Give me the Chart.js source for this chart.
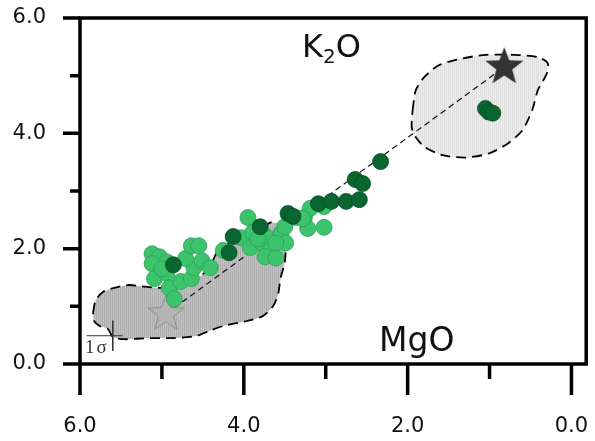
<!DOCTYPE html>
<html>
<head>
<meta charset="utf-8">
<script src="https://cdn.jsdelivr.net/npm/chart.js@4.4.1/dist/chart.umd.min.js"></script>
<style>
  html, body { margin: 0; padding: 0; background: #fff; }
  #wrap { width: 595px; height: 441px; }
</style>
</head>
<body>
<div id="wrap"><canvas id="grafica" width="595" height="441"></canvas></div>
<script>
// MgO (x, reversed) vs K2O (y), wt%
const xTicks = [0, 1, 2, 3, 4, 5, 6];
const yTicks = [0, 1, 2, 3, 4, 5, 6];

// samples, light green
const lightMgO = [5.12, 5.03, 5.12, 5.09, 4.94, 4.94, 4.91, 4.85, 4.77, 4.64, 4.61, 4.71, 4.64, 4.55, 4.51, 4.41, 5.00,
                  3.95, 4.25, 4.03, 3.89, 3.92, 3.77, 3.73, 3.67, 3.74, 3.61, 3.55, 3.49, 3.50, 3.37, 3.26, 3.22, 3.19, 3.28, 3.02, 3.02, 3.83, 3.61];
const lightK2O = [1.91, 1.86, 1.74, 1.48, 1.77, 1.57, 1.32, 1.13, 1.43, 1.48, 1.67, 1.83, 2.05, 2.05, 1.79, 1.67, 1.65,
                  2.54, 1.97, 2.19, 2.28, 2.02, 2.09, 2.21, 1.97, 1.86, 1.84, 2.26, 2.10, 2.38, 2.54, 2.54, 2.35, 2.70, 2.52, 2.73, 2.37, 2.17, 2.10];

// samples, dark green
const darkMgO = [4.86, 4.13, 4.18, 3.80, 3.46, 3.40, 3.09, 2.93, 2.75, 2.59, 2.64, 2.55, 2.33, 1.05, 1.01, 0.96];
const darkK2O = [1.72, 2.21, 1.93, 2.38, 2.61, 2.56, 2.78, 2.82, 2.82, 2.85, 3.20, 3.13, 3.51, 4.43, 4.37, 4.35];

// low-K field (dark grey)
const lowFieldMgO = [5.84, 5.81, 5.72, 5.58, 5.40, 5.21, 4.97, 4.67, 4.43, 4.33, 4.21, 4.01, 3.80, 3.68, 3.55, 3.49, 3.50, 3.55, 3.58, 3.64,
                     3.77, 3.95, 4.25, 4.43, 4.57, 4.85, 5.15, 5.46, 5.60, 5.66, 5.76, 5.83];
const lowFieldK2O = [0.89, 1.10, 1.25, 1.32, 1.37, 1.34, 1.32, 1.39, 1.65, 1.93, 2.07, 2.19, 2.31, 2.45, 2.42, 2.14, 1.76, 1.50, 1.22, 1.01,
                     0.83, 0.75, 0.66, 0.57, 0.49, 0.45, 0.45, 0.43, 0.47, 0.61, 0.66, 0.75];

// high-K field (light grey)
const highFieldMgO = [1.94, 1.90, 1.80, 1.62, 1.33, 1.05, 0.69, 0.41, 0.29, 0.30, 0.41, 0.48, 0.60, 0.77, 1.01, 1.29, 1.57, 1.79, 1.90, 1.95];
const highFieldK2O = [4.40, 4.75, 4.97, 5.18, 5.30, 5.36, 5.36, 5.32, 5.22, 5.04, 4.75, 4.40, 4.05, 3.83, 3.65, 3.58, 3.62, 3.76, 3.93, 4.10];

// end members joined by the mixing line
const startMgO = [4.95], startK2O = [0.87];
const endMgO = [0.82], endK2O = [5.15];

// 1 sigma cross
const sigmaHMgO = [5.92, 5.48], sigmaHK2O = [0.49, 0.49];
const sigmaVMgO = [5.60, 5.60], sigmaVK2O = [0.75, 0.23];

const pts = (xs, ys) => xs.map((x, i) => ({ x: x, y: ys[i] }));
const closed = (xs, ys) => { const p = pts(xs, ys); p.push(p[0]); return p; };

const canvas = document.getElementById("grafica");
const ctx = canvas.getContext("2d");

function stripes(a, b) {
    const c = document.createElement("canvas");
    c.width = 2; c.height = 2;
    const g = c.getContext("2d");
    g.fillStyle = a; g.fillRect(0, 0, 1, 2);
    g.fillStyle = b; g.fillRect(1, 0, 1, 2);
    return ctx.createPattern(c, "repeat");
}

function star(r, fill, stroke) {
    const s = Math.ceil(r * 2 + 4);
    const c = document.createElement("canvas");
    c.width = s; c.height = s;
    const g = c.getContext("2d");
    g.beginPath();
    for (let i = 0; i < 10; i++) {
        const rr = i % 2 ? r * 0.42 : r;
        const a = -Math.PI / 2 + i * Math.PI / 5;
        g.lineTo(s / 2 + rr * Math.cos(a), s / 2 + rr * Math.sin(a));
    }
    g.closePath();
    g.fillStyle = fill;
    g.fill();
    if (stroke) { g.strokeStyle = stroke; g.lineWidth = 1; g.stroke(); }
    return c;
}

const FONT = '"DejaVu Sans", Verdana, sans-serif';

// no extra room for overhanging tick labels
const sinRelleno = axis => {
    axis.paddingTop = 0; axis.paddingBottom = 0;
    axis.paddingLeft = 0; axis.paddingRight = 0;
};

// frame, tick marks and labels drawn inside the plot
const marcoPlugin = {
    id: "marco",
    afterDatasetsDraw(chart) {
        const { ctx, chartArea: a, scales: { x, y } } = chart;
        ctx.save();
        ctx.strokeStyle = "#000";
        ctx.lineWidth = 3.5;
        ctx.lineCap = "butt";
        ctx.beginPath();
        ctx.rect(a.left, a.top, a.right - a.left, a.bottom - a.top);
        ctx.stroke();

        ctx.beginPath();
        yTicks.forEach(v => {
            const p = y.getPixelForValue(v);
            ctx.moveTo(a.left, p);
            ctx.lineTo(a.left - (v % 2 === 0 ? 17 : 10), p);
        });
        xTicks.forEach(v => {
            const p = x.getPixelForValue(v);
            ctx.moveTo(p, a.bottom);
            ctx.lineTo(p, a.bottom + (v % 2 === 0 ? 31 : 15));
        });
        ctx.stroke();

        // oxide labels
        ctx.fillStyle = "#111";
        ctx.textBaseline = "alphabetic";
        ctx.font = "32px " + FONT;
        let px = x.getPixelForValue(3.29), py = y.getPixelForValue(5.32);
        ctx.fillText("K", px, py);
        px += ctx.measureText("K").width;
        ctx.font = "20px " + FONT;
        ctx.fillText("2", px, py + 6);
        px += ctx.measureText("2").width;
        ctx.font = "32px " + FONT;
        ctx.fillText("O", px, py);

        ctx.font = "33px " + FONT;
        ctx.fillText("MgO", x.getPixelForValue(2.35), y.getPixelForValue(0.23));

        ctx.fillStyle = "#333";
        ctx.font = '19px "Liberation Serif", serif';
        ctx.letterSpacing = "2px";
        ctx.fillText("1σ", x.getPixelForValue(5.94), y.getPixelForValue(0.19));
        ctx.restore();
    }
};

const campo = (xs, ys, fondo, orden) => ({
    type: "line",
    data: closed(xs, ys),
    fill: "shape",
    backgroundColor: fondo,
    borderColor: "#000",
    borderWidth: 1.8,
    borderDash: [10, 6],
    tension: 0.25,
    pointRadius: 0,
    order: orden
});

const linea = (data, color, width, dash, orden) => ({
    type: "line",
    data: data,
    borderColor: color,
    borderWidth: width,
    borderDash: dash,
    pointRadius: 0,
    fill: false,
    order: orden
});

const grafica = new Chart(ctx, {
    type: "scatter",
    data: {
        datasets: [
            campo(lowFieldMgO, lowFieldK2O, stripes("#b0b0b0", "#c0c0c0"), 20),
            campo(highFieldMgO, highFieldK2O, stripes("#e0e0e0", "#ebebeb"), 20),
            linea(pts(sigmaHMgO, sigmaHK2O), "#333", 1, [], 19),
            linea(pts(sigmaVMgO, sigmaVK2O), "#333", 1, [], 19),
            linea(pts(startMgO.concat(endMgO), startK2O.concat(endK2O)), "#111", 1.2, [6, 4], 18),
            {
                data: pts(startMgO, startK2O),
                pointStyle: star(19, "#b4b4b4", "#8a8a8a"),
                order: 17
            },
            {
                data: pts(lightMgO, lightK2O),
                backgroundColor: "#3cc46c",
                borderColor: "#2c9f57",
                borderWidth: 0.8,
                pointRadius: 8,
                order: 10
            },
            {
                data: pts(darkMgO, darkK2O),
                backgroundColor: "#0a6630",
                borderColor: "#064c22",
                borderWidth: 0.8,
                pointRadius: 8,
                order: 9
            },
            {
                data: pts(endMgO, endK2O),
                pointStyle: star(20, "#333333"),
                order: 8
            }
        ]
    },
    options: {
        responsive: false,
        animation: false,
        devicePixelRatio: 1,
        layout: { padding: { top: 18, right: 3, left: 0, bottom: 0 } },
        plugins: {
            legend: { display: false },
            tooltip: { enabled: false }
        },
        scales: {
            x: {
                type: "linear",
                reverse: true,
                min: -0.18,
                max: 6,
                grid: { display: false },
                border: { display: false },
                afterBuildTicks: axis => { axis.ticks = xTicks.map(v => ({ value: v })); },
                afterFit: axis => { axis.height = 77; sinRelleno(axis); },
                ticks: {
                    autoSkip: false,
                    maxRotation: 0,
                    padding: 42,
                    color: "#111",
                    font: { family: FONT, size: 21 },
                    callback: v => (v % 2 === 0 ? v.toFixed(1) : "")
                }
            },
            y: {
                type: "linear",
                min: 0,
                max: 6,
                grid: { display: false },
                border: { display: false },
                afterBuildTicks: axis => { axis.ticks = yTicks.map(v => ({ value: v })); },
                afterFit: axis => { axis.width = 80; sinRelleno(axis); },
                ticks: {
                    autoSkip: false,
                    padding: 26,
                    color: "#111",
                    font: { family: FONT, size: 21 },
                    callback: v => (v % 2 === 0 ? v.toFixed(1) : "")
                }
            }
        }
    },
    plugins: [marcoPlugin]
});
</script>
</body>
</html>
